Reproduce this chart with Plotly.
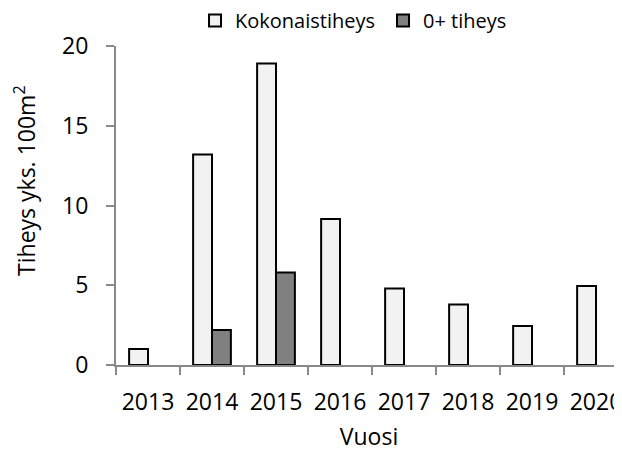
import plotly.graph_objects as go

years = ["2013", "2014", "2015", "2016", "2017", "2018", "2019", "2020"]
kokonais = [1.0, 13.2, 18.9, 9.15, 4.8, 3.8, 2.45, 4.95]
nolla_plus = [None, 2.2, 5.8, None, None, None, None, None]

FONT = "Open Sans"
AX = "#898989"

fig = go.Figure()
fig.add_trace(go.Bar(x=years, y=kokonais, name="Kokonaistiheys",
                     marker=dict(color="#f2f2f2", line=dict(color="#000000", width=2))))
fig.add_trace(go.Bar(x=years, y=nolla_plus, name="0+ tiheys",
                     marker=dict(color="#808080", line=dict(color="#000000", width=2))))

fig.add_annotation(text="Tiheys yks. 100m<sup>2</sup>", textangle=-90,
                   xref="paper", yref="paper", x=-0.18, y=0.58,
                   xanchor="center", yanchor="middle", showarrow=False,
                   font=dict(size=23, family=FONT, color="#000000"))

fig.update_layout(
    width=614, height=446,
    margin=dict(l=108, r=0, t=38, b=89, autoexpand=False),
    paper_bgcolor="white", plot_bgcolor="white",
    barmode="group", bargap=0.41, bargroupgap=0,
    font=dict(family=FONT, color="#000000", size=23),
    legend=dict(orientation="h", xref="container", yref="container",
                x=0.3046, y=0.972, xanchor="left", yanchor="middle",
                entrywidth=143, entrywidthmode="pixels",
                font=dict(size=20, family=FONT), bgcolor="rgba(0,0,0,0)"),
    xaxis=dict(type="category", range=[-0.5, 7.406], showline=True, linecolor=AX, linewidth=2,
               ticks="outside", tickson="boundaries", ticklen=8, tickcolor=AX, tickwidth=2,
               showgrid=False, zeroline=False, ticklabelstandoff=15, automargin=False,
               title=dict(text="Vuosi", standoff=13, font=dict(size=23))),
    yaxis=dict(range=[0, 20], dtick=5, showline=True, linecolor=AX, linewidth=2,
               ticks="outside", ticklen=8, tickcolor=AX, tickwidth=2,
               showgrid=False, zeroline=False, ticklabelstandoff=13, automargin=False),
)

fig.write_html("out.html")
